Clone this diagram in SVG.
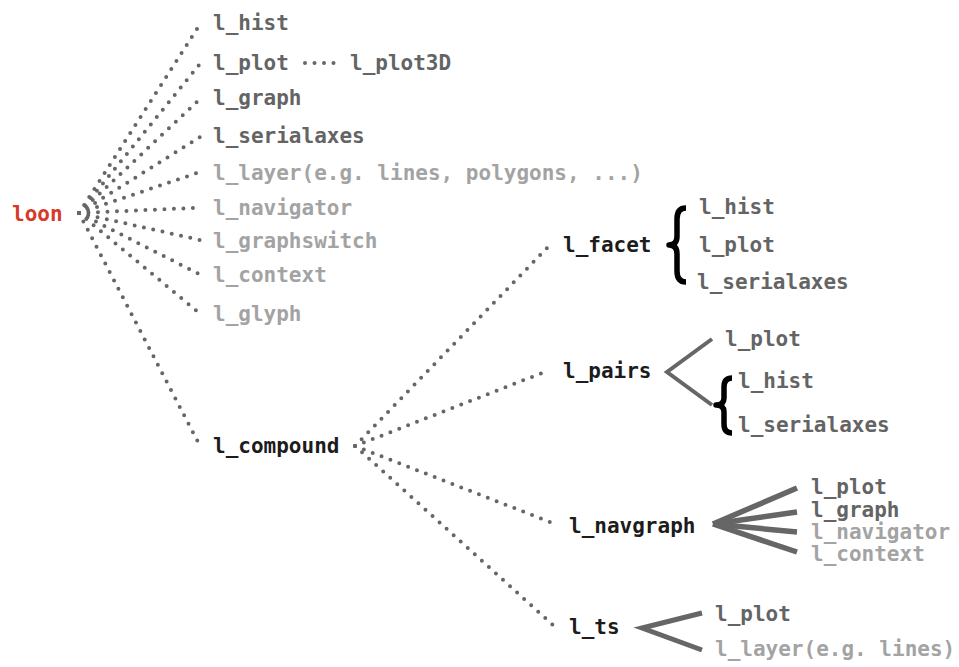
<svg xmlns="http://www.w3.org/2000/svg" width="959" height="667" viewBox="0 0 959 667">
  <style>
    text { font-family: "DejaVu Sans Mono", "Liberation Mono", monospace; font-weight: bold; font-size: 21px; }
    .root { fill: #d63a28; }
    .dark { fill: #1c1c1c; }
    .mid { fill: #646464; }
    .light { fill: #a3a3a3; }
    .dots { fill: none; stroke: #666666; stroke-width: 4; stroke-linecap: round; stroke-dasharray: 0 9.5; }
    .solid { fill: none; stroke: #666666; stroke-linecap: butt; }
    .brace { fill: none; stroke: #000000; stroke-width: 5.5; stroke-linejoin: round; }
  </style>

  <rect width="959" height="667" fill="#ffffff"/>

  <!-- connectors -->
  <g id="connectors">
    <!-- loon fan -->
    <path class="dots" d="M79,213 L197,29"/>
    <path class="dots" d="M79,213 L199,65"/>
    <path class="dots" d="M79,213 L199,100"/>
    <path class="dots" d="M79,213 L200,137"/>
    <path class="dots" d="M79,213 L197,173"/>
    <path class="dots" d="M79,213 L194,208"/>
    <path class="dots" d="M79,213 L200,240"/>
    <path class="dots" d="M79,213 L199,274"/>
    <path class="dots" d="M79,213 L198,312"/>
    <path class="dots" d="M79,213 L198,442"/>
    <!-- l_plot to l_plot3D -->
    <path class="dots" d="M305,63 L335,63"/>
    <!-- l_compound fan -->
    <path class="dots" d="M355,446 L547,248"/>
    <path class="dots" d="M355,446 L542,373"/>
    <path class="dots" d="M355,446 L550,522"/>
    <path class="dots" d="M355,446 L553,625"/>
    <!-- l_pairs -->
    <path class="solid" stroke-width="4" d="M712,339 L667,372 L712,405"/>
    <!-- l_navgraph -->
    <g class="solid" stroke-width="5.5">
      <path d="M713,524 L797,488"/>
      <path d="M713,524 L797,512"/>
      <path d="M713,524 L797,532"/>
      <path d="M713,524 L797,552"/>
    </g>
    <!-- l_ts -->
    <path class="solid" stroke-width="5" stroke-linejoin="miter" d="M702,613 L642,628 L702,650"/>
    <!-- braces -->
    <path class="brace" d="M686,208 Q677,208 677,219 L677,236 Q677,245 669,245 Q677,245 677,254 L677,271 Q677,282 686,282"/>
    <path class="brace" d="M732,378 Q724,378 724,387 L724,398 Q724,405 716,405 Q724,405 724,412 L724,424 Q724,433 732,433"/>
  </g>

  <g id="loon"><text class="root" x="12" y="221">loon</text></g>
  <g id="l_hist"><text class="mid" x="213" y="30">l_hist</text></g>
  <g id="l_plot"><text class="mid" x="213" y="70">l_plot</text></g>
  <g id="l_plot3D"><text class="mid" x="350" y="70">l_plot3D</text></g>
  <g id="l_graph"><text class="mid" x="213" y="105">l_graph</text></g>
  <g id="l_serialaxes"><text class="mid" x="213" y="143">l_serialaxes</text></g>
  <g id="l_layer"><text class="light" x="213" y="180">l_layer(e.g. lines, polygons, ...)</text></g>
  <g id="l_navigator"><text class="light" x="213" y="215">l_navigator</text></g>
  <g id="l_graphswitch"><text class="light" x="213" y="248">l_graphswitch</text></g>
  <g id="l_context"><text class="light" x="213" y="282">l_context</text></g>
  <g id="l_glyph"><text class="light" x="213" y="321">l_glyph</text></g>
  <g id="l_compound"><text class="dark" x="213" y="453">l_compound</text></g>

  <g id="l_facet">
    <text class="dark" x="563" y="252">l_facet</text>
    <text class="mid" x="699" y="214">l_hist</text>
    <text class="mid" x="699" y="252">l_plot</text>
    <text class="mid" x="697" y="289">l_serialaxes</text>
  </g>

  <g id="l_pairs">
    <text class="dark" x="563" y="378">l_pairs</text>
    <text class="mid" x="725" y="346">l_plot</text>
    <text class="mid" x="738" y="388">l_hist</text>
    <text class="mid" x="738" y="432">l_serialaxes</text>
  </g>

  <g id="l_navgraph">
    <text class="dark" x="569" y="533">l_navgraph</text>
    <text class="mid" x="811" y="494">l_plot</text>
    <text class="mid" x="811" y="517">l_graph</text>
    <text class="light" x="811" y="539">l_navigator</text>
    <text class="light" x="811" y="561">l_context</text>
  </g>

  <g id="l_ts">
    <text class="dark" x="569" y="634">l_ts</text>
    <text class="mid" x="715" y="621">l_plot</text>
    <text class="light" x="715" y="656">l_layer(e.g. lines)</text>
  </g>
</svg>
